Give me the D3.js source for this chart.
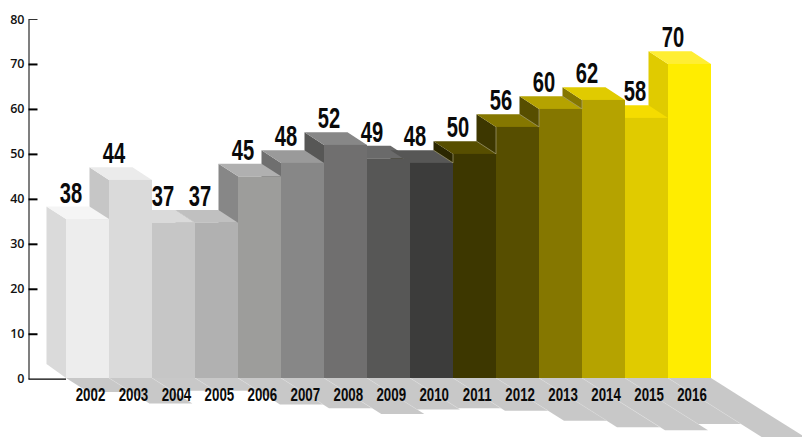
<!DOCTYPE html>
<html>
<head>
<meta charset="utf-8">
<script src="https://cdn.jsdelivr.net/npm/d3@7"></script>
<style>
  html, body { margin: 0; padding: 0; background: #fff; }
  .tick text { font-family: "Open Sans", sans-serif; font-size: 12.5px; font-weight: 600; fill: #111; }
  .value, .year { font-family: "Liberation Sans", sans-serif; font-weight: 700; fill: #0a0a0a; text-anchor: middle; }
</style>
</head>
<body>
<svg id="chart" width="802" height="437"></svg>
<script>
// values
var years = ["2002", "2003", "2004", "2005", "2006", "2007", "2008", "2009", "2010", "2011", "2012", "2013", "2014", "2015", "2016"];
// height actually drawn on the axis (three bars do not agree with their label)
var heights = [35.5, 44.2, 34.7, 34.7, 45, 48, 52, 49, 48, 50, 56, 60, 62, 58, 70];
var labels = ["38", "44", "37", "37", "45", "48", "52", "49", "48", "50", "56", "60", "62", "58", "70"];
var yTicks = [0, 10, 20, 30, 40, 50, 60, 70, 80];

var frontColors = ["#ededed", "#dadada", "#c6c6c6", "#b1b1b1", "#9d9d9b", "#878787", "#706f6f", "#575756", "#3c3c3b", "#3d3700", "#574e00", "#857700", "#b5a300", "#e0cb00", "#ffed00"];
var topColors = ["#f5f5f5", "#ebebeb", "#dadada", "#c0c0c0", "#b0b0b0", "#9a9a9a", "#878787", "#6a6a6a", "#575756", "#574e00", "#857700", "#b5a300", "#e0cb00", "#f5dc00", "#ffee33"];
var sideColors = ["#dadada", "#c6c6c6", "#b1b1b1", "#9d9d9b", "#878787", "#6f6f6f", "#575756", "#3c3c3b", "#2b2700", "#2b2700", "#3d3700", "#574e00", "#857700", "#b5a300", "#e0cb00"];

var depthX = 19.5;
var depthY = 12.7;
var floorY = 378;
var shadowSlope = 0.63;

var svg = d3.select("#chart");

var x = d3.scaleBand().domain(years).range([66, 711]);
var y = d3.scaleLinear().domain([0, 80]).range([378.7, 19]);
var yearX = d3.scalePoint().domain(years).range([90.5, 692]);
var shadowLength = d3.scaleLinear().domain([25, 44, 50, 56, 62, 70]).range([0, 40, 52, 68, 83, 94]);
var front = d3.scaleOrdinal().domain(years).range(frontColors);
var top3d = d3.scaleOrdinal().domain(years).range(topColors);
var side = d3.scaleOrdinal().domain(years).range(sideColors);

var bars = years.map(function (year, i) {
  return { year: year, height: heights[i], label: labels[i], previous: i > 0 ? heights[i - 1] : null };
});

function poly(points) {
  return points.map(function (p) { return p.join(","); }).join(" ");
}

// ombres au sol
svg.append("g").selectAll("polygon")
  .data(bars)
  .enter()
  .append("polygon")
  .attr("fill", "#c8c8c8")
  .attr("points", function (d) {
    var x0 = x(d.year), w = x.bandwidth(), l = shadowLength(d.height);
    return poly([[x0, floorY], [x0 + w, floorY], [x0 + w + l, floorY + l * shadowSlope], [x0 + l, floorY + l * shadowSlope]]);
  });

// thin light seams between the shadows
svg.append("g").selectAll("line")
  .data(bars.slice(1))
  .enter()
  .append("line")
  .attr("stroke", "#dedede")
  .attr("stroke-width", 0.4)
  .attr("x1", function (d) { return x(d.year); })
  .attr("y1", floorY)
  .attr("x2", function (d) { return x(d.year) + shadowLength(Math.min(d.height, d.previous)); })
  .attr("y2", function (d) { return floorY + shadowLength(Math.min(d.height, d.previous)) * shadowSlope; });

// axe
var yAxis = d3.axisLeft(y).tickValues(yTicks).tickSize(-9).tickSizeOuter(0).tickPadding(4);
var axisGroup = svg.append("g")
  .attr("transform", "translate(28.5,0)")
  .call(yAxis);
axisGroup.select(".domain").attr("stroke", "#555").attr("stroke-width", 1.5);
axisGroup.selectAll(".tick line").attr("stroke", "#000").attr("stroke-width", 2);
axisGroup.selectAll(".tick").filter(function (d) { return d === 80; }).select("line")
  .attr("stroke", "#333")
  .attr("stroke-width", 1);
axisGroup.selectAll(".tick").filter(function (d) { return d === 0; }).select("line")
  .attr("x2", x(years[0]) - 28.5)
  .attr("stroke-width", 1.2);

// faces: sides first, then tops, fronts last so the overlaps come out right
svg.append("g").selectAll("polygon")
  .data(bars)
  .enter()
  .append("polygon")
  .attr("fill", function (d) { return side(d.year); })
  .attr("points", function (d) {
    var x0 = x(d.year), t = y(d.height);
    return poly([[x0 - depthX, t - depthY], [x0, t], [x0, floorY], [x0 - depthX, floorY - 14]]);
  });

svg.append("g").selectAll("polygon")
  .data(bars)
  .enter()
  .append("polygon")
  .attr("fill", function (d) { return top3d(d.year); })
  .attr("points", function (d) {
    var x0 = x(d.year), w = x.bandwidth(), t = y(d.height);
    return poly([[x0, t], [x0 + w, t], [x0 + w - depthX, t - depthY], [x0 - depthX, t - depthY]]);
  });

svg.append("g").selectAll("rect")
  .data(bars)
  .enter()
  .append("rect")
  .attr("x", function (d) { return x(d.year); })
  .attr("y", function (d) { return y(d.height); })
  .attr("width", x.bandwidth())
  .attr("height", function (d) { return floorY - y(d.height); })
  .attr("fill", function (d) { return front(d.year); });

// pale edge on the olive steps
svg.append("g").selectAll("polyline")
  .data(bars.filter(function (d) { return d.year >= "2011" && d.year <= "2014"; }))
  .enter()
  .append("polyline")
  .attr("fill", "none")
  .attr("stroke", "#a8a27a")
  .attr("stroke-width", 0.7)
  .attr("points", function (d) {
    var x0 = x(d.year), t = y(d.height), low = y(d.previous);
    return poly([[x0 - depthX, low - depthY], [x0, low], [x0, t]]);
  });

// textes
var labelShift = { "2004": 6, "2015": 5 };

svg.append("g").selectAll("text")
  .data(bars)
  .enter()
  .append("text")
  .attr("class", "value")
  .attr("transform", function (d) {
    var cx = x(d.year) + 5 + (labelShift[d.year] || 0);
    return "translate(" + cx + "," + (y(d.height) - 16.5) + ") scale(0.96,1.44)";
  })
  .attr("font-size", 21)
  .text(function (d) { return d.label; });

svg.append("g").selectAll("text")
  .data(bars)
  .enter()
  .append("text")
  .attr("class", "year")
  .attr("transform", function (d) {
    return "translate(" + yearX(d.year) + ",401) scale(0.95,1.36)";
  })
  .attr("font-size", 14)
  .text(function (d) { return d.year; });
</script>
</body>
</html>
